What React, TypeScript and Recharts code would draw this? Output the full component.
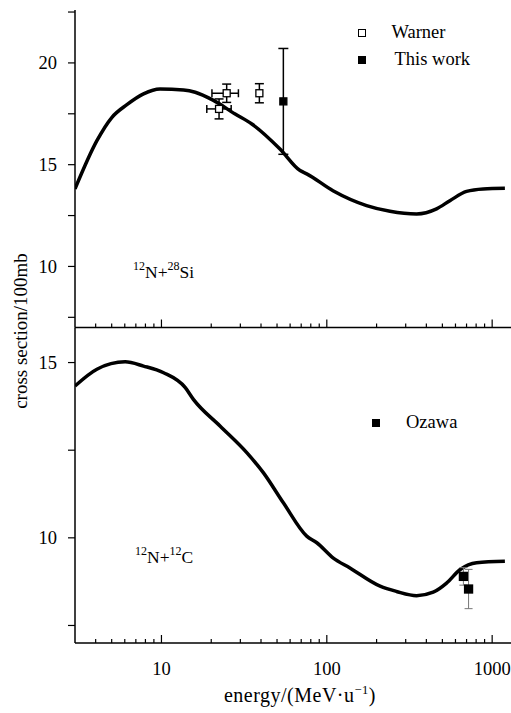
import React from 'react';
import { ComposedChart, Line, Scatter, ErrorBar, XAxis, YAxis, Legend } from 'recharts';

const FONT = '"Liberation Serif", "Times New Roman", serif';

// theory curves (energy MeV/u, cross section /100mb)
const siEnergy = [3, 4.07, 5.02, 6.18, 7.79, 9.8, 13.6, 16, 20.5, 27.9, 35.2, 52.1, 68.9, 75.6, 109, 174, 241, 349, 461, 555, 700, 883, 1194];
const siSigma = [13.81, 16.18, 17.33, 17.95, 18.48, 18.72, 18.67, 18.56, 18.17, 17.49, 17.0, 15.77, 14.71, 14.55, 13.72, 12.99, 12.71, 12.58, 12.83, 13.23, 13.69, 13.81, 13.84];

const cEnergy = [3, 4.07, 6.03, 7.79, 10.3, 13.9, 15.6, 22.6, 32.8, 41.3, 54.6, 75.6, 87, 109, 138, 210, 264, 349, 440, 530, 638, 805, 1194];
const cSigma = [14.33, 14.81, 15.02, 14.9, 14.71, 14.29, 13.95, 13.19, 12.43, 11.86, 11.0, 10.05, 9.86, 9.43, 9.14, 8.62, 8.47, 8.35, 8.45, 8.71, 9.09, 9.29, 9.33];

// measured points
const warnerE = [24.8, 22.3, 39.1];
const warnerSigma = [18.51, 17.74, 18.51];
const warnerErrE = [[4.6, 4.4], [3.5, 4.1], 0];
const warnerErrSigma = [0.45, 0.49, 0.47];

const thisWorkE = [54.6];
const thisWorkSigma = [18.11];
const thisWorkErr = [2.6];

const ozawaE = [670, 720];
const ozawaSigma = [8.9, 8.54];
const ozawaErr = [0.25, 0.56];

const legendOrder = ['Warner', 'This work', 'Ozawa'];

const xTicks = [4, 5, 6, 7, 8, 9, 10, 20, 30, 40, 50, 60, 70, 80, 90, 100, 200, 300, 400, 500, 600, 700, 800, 900, 1000];
const xMajor = [10, 100, 1000];
const topYTicks = [7.5, 10, 12.5, 15, 17.5, 20, 22.5];
const bottomYTicks = [7.5, 10, 12.5, 15];

const siCurve = siEnergy.map((x, i) => ({ x, y: siSigma[i] }));
const cCurve = cEnergy.map((x, i) => ({ x, y: cSigma[i] }));
const warner = warnerE.map((x, i) => ({ x, y: warnerSigma[i], ex: warnerErrE[i], ey: warnerErrSigma[i] }));
const thisWork = thisWorkE.map((x, i) => ({ x, y: thisWorkSigma[i], ey: thisWorkErr[i] }));
const ozawa = ozawaE.map((x, i) => ({ x, y: ozawaSigma[i], ey: ozawaErr[i] }));

const X_DOMAIN = [3, 1300];

const square = (filled: boolean, size: number) => (props: any) => {
  const { cx, cy } = props;
  if (cx == null || cy == null) return <g />;
  return (
    <rect x={cx - size / 2} y={cy - size / 2} width={size} height={size}
      fill={filled ? '#000' : '#fff'} stroke="#000" strokeWidth={1.3} />
  );
};

const xTick = (showLabel: boolean) => (props: any) => {
  const { x, y, payload } = props;
  const major = xMajor.includes(payload.value);
  return (
    <g>
      <line x1={x} x2={x} y1={y} y2={y - (major ? 8 : 4)} stroke="#000" strokeWidth={1.2} />
      {showLabel && major && (
        <text x={x} y={y + 31.5} textAnchor="middle" fontSize={18.5} fontFamily={FONT} fill="#000">
          {payload.value}
        </text>
      )}
    </g>
  );
};

const yTick = (props: any) => {
  const { x, y, payload } = props;
  const major = payload.value % 5 === 0;
  return (
    <g>
      <line x1={x} x2={x - 7} y1={y} y2={y} stroke="#000" strokeWidth={1.2} />
      {major && (
        <text x={x - 18} y={y} dy="0.35em" textAnchor="end" fontSize={18.5} fontFamily={FONT} fill="#000">
          {payload.value}
        </text>
      )}
    </g>
  );
};

const legendContent = (props: any) => {
  const items = (props.payload || [])
    .filter((p: any) => p.type !== 'none')
    .sort((a: any, b: any) => legendOrder.indexOf(a.value) - legendOrder.indexOf(b.value));
  return (
    <div style={{ fontFamily: FONT, fontSize: 18.5, color: '#000' }}>
      {items.map((p: any) => (
        <div key={p.value} style={{ display: 'flex', alignItems: 'center', height: 27 }}>
          <span style={{
            display: 'inline-block', width: 8, height: 8, boxSizing: 'border-box',
            border: '1px solid #000', background: p.value === 'Warner' ? '#fff' : '#000',
          }} />
          <span style={{ marginLeft: p.value === 'This work' ? 29 : 26, lineHeight: 1 }}>{p.value}</span>
        </div>
      ))}
    </div>
  );
};

const axisLine = { stroke: '#000', strokeWidth: 1.5 };

export default function App() {
  return (
    <div style={{ position: 'absolute', left: 0, top: 0, width: 511, height: 713, background: '#fff' }}>
      <div style={{ position: 'absolute', left: 0, top: 0 }}>
        <ComposedChart width={511} height={340} margin={{ top: 10, right: 0, left: 0, bottom: 0 }}>
          <XAxis type="number" dataKey="x" scale="log" domain={X_DOMAIN} allowDataOverflow
            ticks={xTicks} interval={0} tick={xTick(false)} tickLine={false} tickSize={0} tickMargin={0}
            height={12.5} axisLine={axisLine} />
          <YAxis type="number" domain={[7, 22.6]} allowDataOverflow ticks={topYTicks} interval={0}
            tick={yTick} tickLine={false} tickSize={0} tickMargin={0} width={75} axisLine={axisLine} />
          <Line data={siCurve} dataKey="y" type="monotone" stroke="#000" strokeWidth={3.5}
            dot={false} activeDot={false} legendType="none" isAnimationActive={false} />
          <Scatter name="Warner" data={warner} dataKey="y" shape={square(false, 7)} isAnimationActive={false}>
            <ErrorBar dataKey="ex" direction="x" width={4} stroke="#000" strokeWidth={1.5} />
            <ErrorBar dataKey="ey" direction="y" width={4.5} stroke="#000" strokeWidth={1.5} />
          </Scatter>
          <Scatter name="This work" data={thisWork} dataKey="y" shape={square(true, 7)} isAnimationActive={false}>
            <ErrorBar dataKey="ey" direction="y" width={5} stroke="#000" strokeWidth={1.5} />
          </Scatter>
          <Legend layout="vertical" align="center" verticalAlign="middle" content={legendContent}
            wrapperStyle={{ left: 357.5, top: 19, width: 150, height: 60 }} />
        </ComposedChart>
      </div>
      <div style={{ position: 'absolute', left: 0, top: 0 }}>
        <ComposedChart width={511} height={713} margin={{ top: 327.5, right: 0, left: 0, bottom: 0 }}>
          <XAxis type="number" dataKey="x" scale="log" domain={X_DOMAIN} allowDataOverflow
            ticks={xTicks} interval={0} tick={xTick(true)} tickLine={false} tickSize={0} tickMargin={0}
            height={70} axisLine={axisLine} />
          <YAxis type="number" domain={[7, 16]} allowDataOverflow ticks={bottomYTicks} interval={0}
            tick={yTick} tickLine={false} tickSize={0} tickMargin={0} width={75} axisLine={axisLine} />
          <Line data={cCurve} dataKey="y" type="monotone" stroke="#000" strokeWidth={3.5}
            dot={false} activeDot={false} legendType="none" isAnimationActive={false} />
          <Scatter name="Ozawa" data={ozawa} dataKey="y" shape={square(true, 8)} isAnimationActive={false}>
            <ErrorBar dataKey="ey" direction="y" width={4} stroke="#777" strokeWidth={1} />
          </Scatter>
          <Legend layout="vertical" align="center" verticalAlign="middle" content={legendContent}
            wrapperStyle={{ left: 372, top: 409, width: 120, height: 27 }} />
        </ComposedChart>
      </div>
      <svg width={511} height={713} style={{ position: 'absolute', left: 0, top: 0, pointerEvents: 'none' }}
        fontFamily={FONT} fill="#000">
        <text x={133} y={278} fontSize={17.5}>
          <tspan fontSize={12} dy={-8}>12</tspan>
          <tspan dy={8}>N+</tspan>
          <tspan fontSize={12} dy={-8}>28</tspan>
          <tspan dy={8}>Si</tspan>
        </text>
        <text x={135} y={563} fontSize={17.5}>
          <tspan fontSize={12} dy={-8}>12</tspan>
          <tspan dy={8}>N+</tspan>
          <tspan fontSize={12} dy={-8}>12</tspan>
          <tspan dy={8}>C</tspan>
        </text>
        <text transform="translate(26.5,331) rotate(-90)" textAnchor="middle" fontSize={19}>
          cross section/100mb
        </text>
        <text x={300} y={702} textAnchor="middle" fontSize={20} letterSpacing={0.5}>
          energy/(MeV·u<tspan fontSize={12.5} dy={-8}>−1</tspan><tspan dy={8}>)</tspan>
        </text>
      </svg>
    </div>
  );
}
